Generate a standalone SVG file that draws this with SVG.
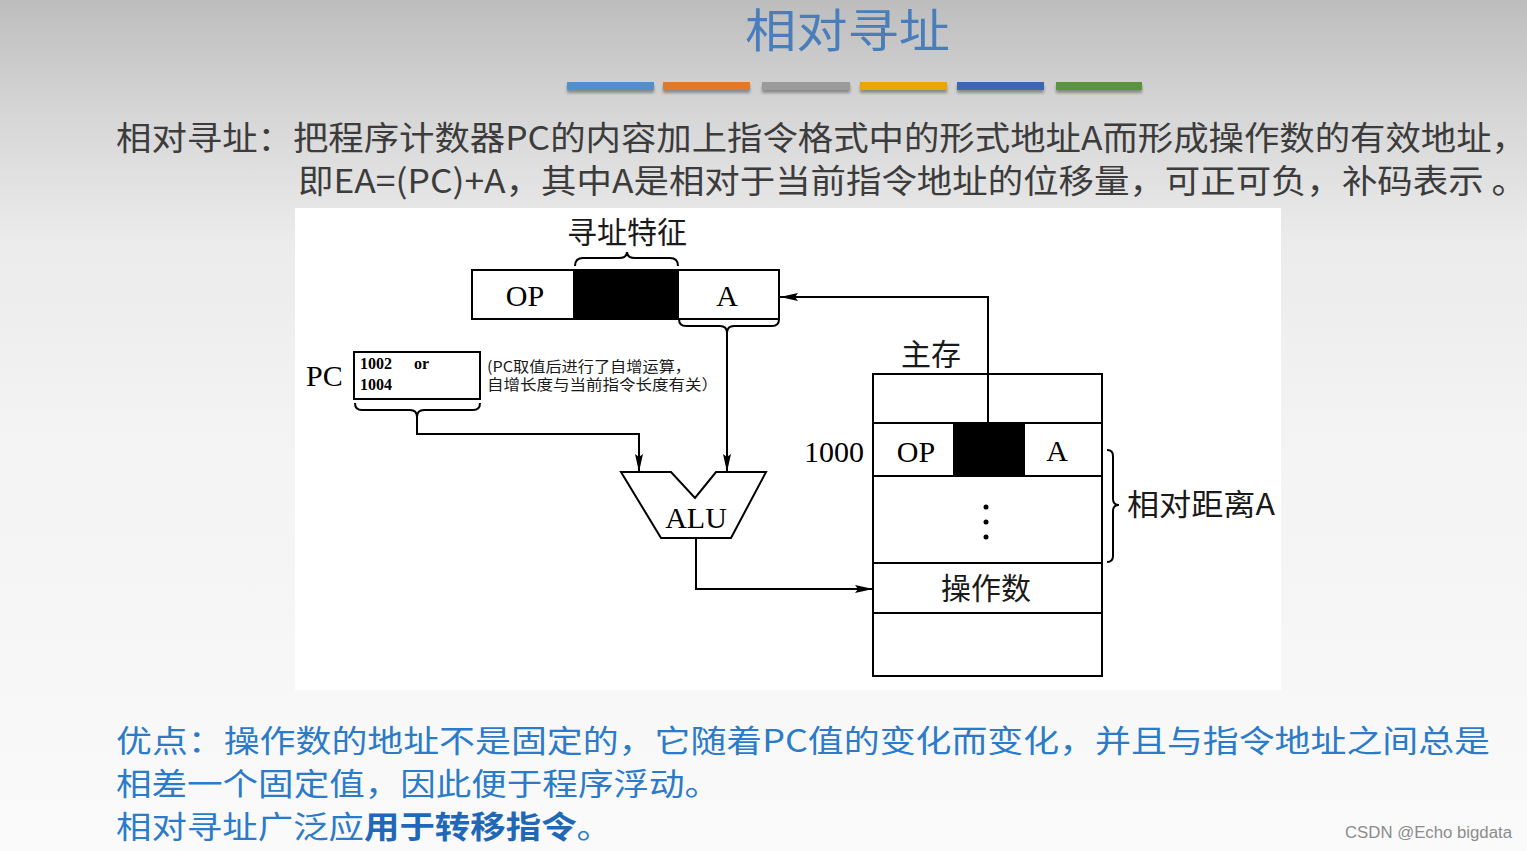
<svg xmlns="http://www.w3.org/2000/svg" width="1527" height="851" viewBox="0 0 1527 851">
<defs>
<linearGradient id="bg" x1="0" y1="0" x2="0" y2="1">
<stop offset="0" stop-color="#bdbdbd"/>
<stop offset="0.12" stop-color="#d4d4d4"/>
<stop offset="0.28" stop-color="#ebebeb"/>
<stop offset="0.5" stop-color="#f3f3f3"/>
<stop offset="1" stop-color="#fafafa"/>
</linearGradient>
<marker id="ah" viewBox="0 0 18 8" refX="18" refY="4" markerWidth="18" markerHeight="8" markerUnits="userSpaceOnUse" orient="auto">
<path d="M0,0 L18,4 L0,8 L3,4 z" fill="#000"/>
</marker>
<filter id="sh" x="-5%" y="-50%" width="110%" height="250%">
<feGaussianBlur in="SourceAlpha" stdDeviation="1.5"/>
<feOffset dy="3"/>
<feComponentTransfer><feFuncA type="linear" slope="0.35"/></feComponentTransfer>
<feMerge><feMergeNode/><feMergeNode in="SourceGraphic"/></feMerge>
</filter>
</defs>
<style>
.body{font-family:"Noto Sans CJK SC","Liberation Sans",sans-serif;font-size:33px;fill:#3c3c3c}
.blue{font-family:"Noto Sans CJK SC","Liberation Sans",sans-serif;font-size:31px;fill:#2b7bc9}
.bold{font-weight:600;fill:#1f68b8}
.cn{font-family:"Noto Sans CJK SC",sans-serif;font-size:30px;fill:#1a1a1a}
.tm{font-family:"Liberation Serif",serif;font-size:30px;fill:#000}
.small{font-family:"Liberation Serif",serif;font-size:16px;font-weight:bold;fill:#000}
.note{font-family:"Noto Sans CJK SC",sans-serif;font-size:15px;fill:#1a1a1a}
.ln{fill:none;stroke:#000;stroke-width:2}
.box{fill:#fff;stroke:#000;stroke-width:2}
.blk{fill:#000;stroke:#000;stroke-width:2}
.conn{fill:none;stroke:#000;stroke-width:2;marker-end:url(#ah)}
</style>
<rect x="0" y="0" width="1527" height="851" fill="url(#bg)"/>
<rect x="295" y="208" width="986" height="482" fill="#fff"/>

<g id="title">
<text x="745" y="47" font-family="Noto Sans CJK SC, sans-serif" font-size="46" fill="#4a7ebb" textLength="205" lengthAdjust="spacingAndGlyphs">相对寻址</text>
<g filter="url(#sh)">
<rect x="567" y="82" width="87" height="8" fill="#4f8fcc"/>
<rect x="663" y="82" width="87" height="8" fill="#e07a2c"/>
<rect x="762" y="82" width="88" height="8" fill="#9b9b9b"/>
<rect x="860" y="82" width="87" height="8" fill="#e8a800"/>
<rect x="957" y="82" width="87" height="8" fill="#3b66b2"/>
<rect x="1056" y="82" width="86" height="8" fill="#5b933d"/>
</g>
</g>

<g id="definition">
<text class="body" x="116" y="150" textLength="1411" lengthAdjust="spacingAndGlyphs">相对寻址：把程序计数器PC的内容加上指令格式中的形式地址A而形成操作数的有效地址，</text>
<text class="body" x="298" y="193" textLength="1229" lengthAdjust="spacingAndGlyphs">即EA=(PC)+A，其中A是相对于当前指令地址的位移量，可正可负，补码表示 。</text>
</g>

<g id="instruction">
<text class="cn" x="627" y="243" text-anchor="middle">寻址特征</text>
<path class="ln" d="M575,266 Q575,258 583,258 L619,258 Q627,258 627,252 Q627,258 635,258 L670,258 Q678,258 678,266"/>
<rect class="box" x="472" y="270" width="307" height="49"/>
<rect class="blk" x="574" y="270" width="104" height="49"/>
<text class="tm" x="525" y="306" text-anchor="middle">OP</text>
<text class="tm" x="727" y="306" text-anchor="middle">A</text>
<path class="ln" d="M679,319 Q679,326 686,326 L720,326 Q727,326 727,333 Q727,326 734,326 L772,326 Q779,326 779,319"/>
</g>

<g id="pc">
<text class="tm" x="306" y="386">PC</text>
<rect class="box" x="354" y="352" width="126" height="47"/>
<text class="small" x="360" y="369">1002</text>
<text class="small" x="414" y="369">or</text>
<text class="small" x="360" y="390">1004</text>
<path class="ln" d="M355,403 Q355,410 362,410 L410,410 Q417,410 417,417 Q417,410 424,410 L473,410 Q480,410 480,403"/>
<text class="note" x="487" y="372" textLength="204" lengthAdjust="spacingAndGlyphs">(PC取值后进行了自增运算，</text>
<text class="note" x="487" y="390" textLength="231" lengthAdjust="spacingAndGlyphs">自增长度与当前指令长度有关）</text>
</g>

<g id="alu">
<polygon class="box" points="621,472 671,472 695,498 716,472 766,472 731,538 661,538"/>
<text class="tm" x="696" y="528" text-anchor="middle">ALU</text>
</g>

<g id="memory">
<text class="cn" x="931" y="365" text-anchor="middle">主存</text>
<rect class="box" x="873" y="374" width="229" height="302"/>
<line class="ln" x1="873" y1="423" x2="1102" y2="423"/>
<line class="ln" x1="873" y1="476" x2="1102" y2="476"/>
<line class="ln" x1="873" y1="563" x2="1102" y2="563"/>
<line class="ln" x1="873" y1="613" x2="1102" y2="613"/>
<rect class="blk" x="954" y="423" width="70" height="53"/>
<text class="tm" x="834" y="462" text-anchor="middle">1000</text>
<text class="tm" x="916" y="462" text-anchor="middle">OP</text>
<text class="tm" x="1057" y="461" text-anchor="middle">A</text>
<circle cx="986" cy="507" r="2.5" fill="#000"/>
<circle cx="986" cy="522" r="2.5" fill="#000"/>
<circle cx="986" cy="537" r="2.5" fill="#000"/>
<text class="cn" x="986" y="599" text-anchor="middle">操作数</text>
<path class="ln" d="M1107,450 Q1113,450 1113,456 L1113,499 Q1113,505 1119,505 Q1113,505 1113,511 L1113,556 Q1113,562 1107,562"/>
<text class="cn" x="1127" y="515" textLength="148" lengthAdjust="spacingAndGlyphs">相对距离A</text>
</g>

<g id="connectors">
<path class="conn" d="M727,333 V472"/>
<path class="conn" d="M417,417 V434 H639 V472"/>
<path class="conn" d="M696,538 V589 H873"/>
<path class="conn" d="M988,423 V297 H780"/>
</g>

<g id="advantages">
<text class="blue" x="116" y="752" textLength="1374" lengthAdjust="spacingAndGlyphs">优点：操作数的地址不是固定的，它随着PC值的变化而变化，并且与指令地址之间总是</text>
<text class="blue" x="116" y="795" textLength="604" lengthAdjust="spacingAndGlyphs">相差一个固定值，因此便于程序浮动。</text>
<text class="blue" x="116" y="838" textLength="496" lengthAdjust="spacingAndGlyphs">相对寻址广泛应<tspan class="bold">用于转移指令</tspan>。</text>
</g>

<text x="1345" y="838" font-family="Liberation Sans, sans-serif" font-size="16" fill="#8c8c8c" textLength="167" lengthAdjust="spacingAndGlyphs">CSDN @Echo bigdata</text>
</svg>
